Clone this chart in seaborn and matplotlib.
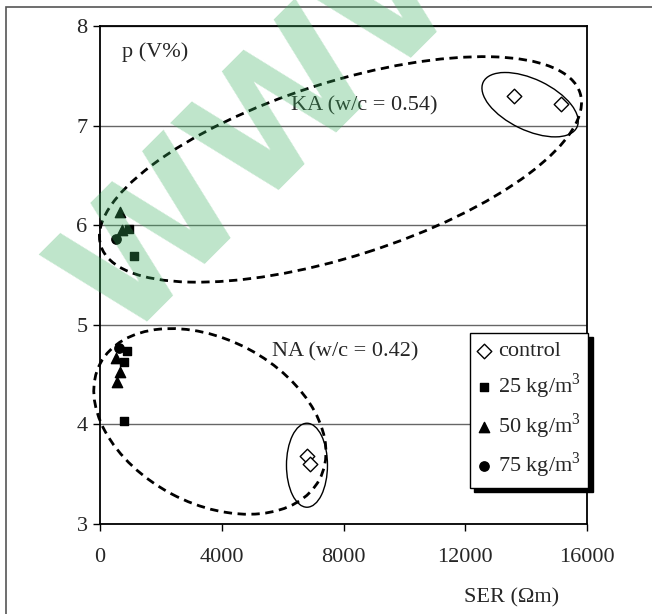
import numpy as np
import pandas as pd
import seaborn as sns
import matplotlib.pyplot as plt
from matplotlib.patches import Ellipse, Rectangle
from matplotlib.transforms import ScaledTranslation

# values
control_ser = [13600, 15150, 6800, 6900]
control_p = [7.30, 7.22, 3.68, 3.60]
kg25_ser = [960, 1120, 880, 800, 790]
kg25_p = [5.96, 5.69, 4.74, 4.63, 4.03]
kg50_ser = [660, 710, 530, 660, 550]
kg50_p = [6.13, 5.95, 4.67, 4.53, 4.43]
kg75_ser = [530, 640]
kg75_p = [5.86, 4.77]

group_labels = ["control", "25 kg/m$^3$", "50 kg/m$^3$", "75 kg/m$^3$"]
x_ticks = [0, 4000, 8000, 12000, 16000]
y_ticks = [3, 4, 5, 6, 7, 8]

sns.set_style("white")
plt.rcParams['font.family'] = ['Liberation Serif', 'DejaVu Serif']
plt.rcParams['mathtext.fontset'] = 'custom'
plt.rcParams['mathtext.rm'] = 'Liberation Serif'

fig = plt.figure(figsize=(6.52, 6.14), dpi=100)
ax = fig.add_axes([100 / 652, 1 - 524 / 614, 487 / 652, 498 / 614])

groups = [
    (control_ser, control_p, "D", 55, "white"),
    (kg25_ser, kg25_p, "s", 38, "black"),
    (kg50_ser, kg50_p, "^", 55, "black"),
    (kg75_ser, kg75_p, "o", 45, "black"),
]
for (xs, ys, mk, size, fc), lab in zip(groups, group_labels):
    df = pd.DataFrame({"SER": xs, "p": ys})
    sns.scatterplot(data=df, x="SER", y="p", marker=mk, s=size, color=fc,
                    edgecolor="black", linewidth=1.0, ax=ax, label=lab,
                    zorder=5, clip_on=False)

ax.set_xlim(0, 16000)
ax.set_ylim(3, 8)
ax.set_xticks(x_ticks)
ax.set_yticks(y_ticks)
ax.tick_params(axis='both', labelsize=16, direction='out', length=5,
               width=1, color='black', bottom=True, left=True)
ax.tick_params(axis='x', pad=12)
ax.tick_params(axis='y', pad=4)
ax.grid(True, axis='y', color='#666666', linewidth=1)
ax.set_axisbelow(True)
for sp in ax.spines.values():
    sp.set_color('black')
    sp.set_linewidth(1.3)

ax.set_xlabel("SER (Ωm)", fontsize=16)
ax.xaxis.set_label_coords(0.845, -0.128)
ax.set_ylabel("")

ax.text(720, 7.74, "p (V%)", fontsize=16, va='center', ha='left')
ax.text(6270, 7.20, "KA (w/c = 0.54)", fontsize=16, va='center', ha='left')
ax.text(5650, 4.73, "NA (w/c = 0.42)", fontsize=16, va='center', ha='left')

# grouping ellipses, sized in inches around a data-space centre
def ring(cx, cy, w, h, ang, dashed):
    tr = fig.dpi_scale_trans + ScaledTranslation(cx, cy, ax.transData)
    e = Ellipse((0, 0), w, h, angle=ang, transform=tr, fill=False,
                edgecolor='black', linewidth=2.0 if dashed else 1.0,
                linestyle=(0, (3, 2)) if dashed else '-', clip_on=False, zorder=4)
    ax.add_patch(e)

ring(7900, 6.56, 5.03, 1.74, 17.7, True)
ring(14130, 7.21, 1.04, 0.51, -25.7, False)
ring(3610, 4.03, 2.48, 1.64, -27.9, True)
ring(6800, 3.59, 0.41, 0.84, 0, False)

handles, labels = ax.get_legend_handles_labels()
leg = ax.legend(handles, labels, loc='upper left',
                bbox_to_anchor=(470 / 652, 1 - 333 / 614),
                bbox_transform=fig.transFigure, fontsize=16,
                frameon=True, fancybox=False, edgecolor='black',
                framealpha=1, borderaxespad=0, borderpad=0.35,
                labelspacing=0.45, handlelength=0.6, handletextpad=0.3,
                shadow={'ox': 3, 'oy': -3, 'color': 'black', 'alpha': 1})
leg.get_frame().set_linewidth(1.0)

# outer frame of the figure
fig.patches.append(Rectangle((5.5 / 652, -0.2), 1.3, 1.2 - 7 / 614,
                             transform=fig.transFigure, fill=False,
                             edgecolor='#555555', linewidth=1.2))

# watermark
fig.text(122 / 652, 1 - 342 / 614, "WWW", rotation=45, rotation_mode='anchor',
         ha='left', va='baseline', fontsize=122, fontweight='bold',
         family='DejaVu Sans', color='#3cb060', alpha=0.33, zorder=10)

fig.savefig("out.png", dpi=100)
